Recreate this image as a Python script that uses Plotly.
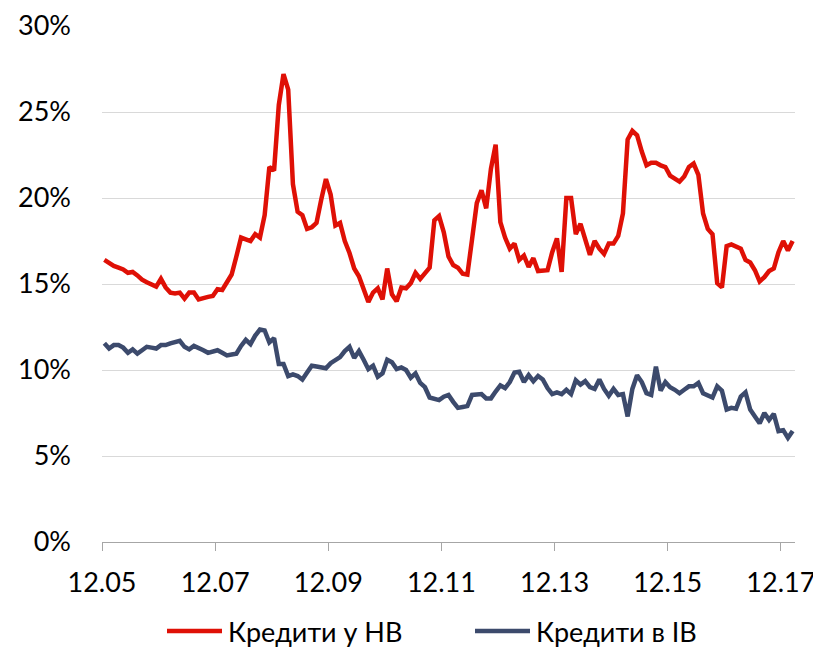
import plotly.graph_objects as go

# Monthly observations, Dec 2005 .. Feb 2018 (percent)
loans_nv = [
    16.4, 16.2, 16.05, 15.95, 15.85, 15.65, 15.7, 15.5, 15.25, 15.1, 14.95, 14.85,
    15.3, 14.8, 14.5, 14.45, 14.5, 14.15, 14.5, 14.5, 14.1, 14.2, 14.25, 14.3,
    14.7, 14.65, 15.1, 15.55, 16.6, 17.7, 17.6, 17.5, 17.9, 17.7, 19.0, 21.8,
    21.6, 25.4, 27.2, 26.3, 20.8, 19.2, 19.0, 18.2, 18.3, 18.55, 19.9, 21.1,
    20.2, 18.4, 18.55, 17.5, 16.8, 15.9, 15.45, 14.7, 13.95, 14.5, 14.75, 14.1,
    15.9, 14.4, 14.0, 14.8, 14.75, 15.05, 15.65, 15.3, 15.6, 15.95, 18.7, 18.95,
    18.0, 16.6, 16.1, 15.95, 15.6, 15.55, 17.6, 19.7, 20.45, 19.4, 21.7, 23.1,
    18.6, 17.7, 17.05, 17.35, 16.4, 16.65, 16.0, 16.5, 15.75, 15.75, 15.8, 16.85,
    17.65, 15.7, 20.0, 20.0, 17.9, 18.5, 17.7, 16.7, 17.5, 17.05, 16.75, 17.35,
    17.35, 17.8, 19.1, 23.4, 23.9, 23.65, 22.7, 21.9, 22.05, 22.05, 21.9, 21.8,
    21.3, 21.15, 20.95, 21.25, 21.8, 22.0, 21.35, 19.1, 18.2, 17.9, 15.05, 14.8,
    17.2, 17.3, 17.15, 17.05, 16.4, 16.25, 15.8, 15.15, 15.4, 15.75, 15.9, 16.85,
    17.5, 16.95, 17.5,
]

loans_iv = [
    11.55, 11.25, 11.45, 11.45, 11.3, 11.0, 11.2, 10.95, 11.15, 11.35, 11.3, 11.25,
    11.45, 11.45, 11.55, 11.6, 11.7, 11.35, 11.2, 11.4, 11.3, 11.15, 11.0, 11.05,
    11.15, 11.0, 10.85, 10.9, 10.95, 11.4, 11.75, 11.5, 12.0, 12.35, 12.3, 11.6,
    11.85, 10.35, 10.35, 9.65, 9.75, 9.65, 9.45, 9.85, 10.25, 10.2, 10.15, 10.1,
    10.4, 10.6, 10.75, 11.1, 11.35, 10.7, 11.1, 10.6, 10.05, 10.25, 9.6, 9.8,
    10.6, 10.45, 10.05, 10.15, 10.0, 9.55, 9.8, 9.25, 9.0, 8.4, 8.3, 8.25,
    8.45, 8.55, 8.15, 7.8, 7.85, 7.9, 8.55, 8.55, 8.6, 8.35, 8.35, 8.75,
    9.1, 8.95, 9.3, 9.85, 9.9, 9.3, 9.7, 9.35, 9.65, 9.45, 8.95, 8.6,
    8.7, 8.6, 8.85, 8.6, 9.4, 9.15, 9.35, 9.0, 8.9, 9.45, 8.9, 8.5,
    8.9, 8.55, 8.6, 7.3, 8.9, 9.7, 9.3, 8.65, 8.55, 10.2, 8.8, 9.3,
    9.0, 8.85, 8.65, 8.85, 9.05, 9.05, 9.25, 8.65, 8.55, 8.4, 9.05, 8.8,
    7.7, 7.8, 7.75, 8.45, 8.7, 7.7, 7.3, 6.9, 7.5, 7.1, 7.45, 6.45,
    6.5, 6.05, 6.45,
]

tick_labels = ["12.05", "12.07", "12.09", "12.11", "12.13", "12.15", "12.17"]
y_ticks = [0, 5, 10, 15, 20, 25, 30]
y_labels = ["0%", "5%", "10%", "15%", "20%", "25%", "30%"]

series_names = ["Кредити у НВ", "Кредити в ІВ"]
colors = ["#DF1006", "#3C4A6C"]

x = list(range(len(loans_nv)))
tick_pos = [i * 24 - 0.5 for i in range(len(tick_labels))]

FONT = "Lato, Noto Sans, sans-serif"
W, H = 813, 641
ML, MR, MT, MB = 94, 26, 18, 107
PW, PH = W - ML - MR, H - MT - MB

fig = go.Figure()
for name, vals, col in zip(series_names, [loans_nv, loans_iv], colors):
    fig.add_trace(go.Scatter(x=x, y=vals, mode="lines", name=name, showlegend=False,
                             line=dict(color=col, width=4.5)))

# Legend drawn below the plot (sample line + label per series)
legend_y = (PH - (623 - MT)) / PH
legend_starts = [159, 467]  # pixel x of each sample line start
shapes, annotations = [], []
for name, col, sx in zip(series_names, colors, legend_starts):
    x0 = (sx - ML) / PW
    x1 = (sx + 55 - ML) / PW
    shapes.append(dict(type="line", xref="paper", yref="paper", x0=x0, x1=x1,
                       y0=legend_y, y1=legend_y, line=dict(color=col, width=4.5)))
    annotations.append(dict(xref="paper", yref="paper", x=(sx + 60 - ML) / PW, y=legend_y,
                            text=name, showarrow=False, xanchor="left", yanchor="middle",
                            borderpad=0,
                            font=dict(size=27, family=FONT, color="#000000")))

fig.update_layout(
    width=W, height=H,
    margin=dict(l=ML, r=MR, t=MT, b=MB),
    paper_bgcolor="white", plot_bgcolor="white",
    font=dict(family=FONT, size=27, color="#000000"),
    showlegend=False,
    shapes=shapes, annotations=annotations,
    xaxis=dict(range=[-0.5, len(x) - 0.5], tickvals=tick_pos, ticktext=tick_labels,
               showgrid=False, zeroline=False, showline=True, linecolor="#A6A6A6",
               linewidth=1.3, ticks="outside", ticklen=8, tickcolor="#A6A6A6",
               tickwidth=1.3, ticklabelstandoff=8, automargin=False),
    yaxis=dict(range=[0, 30], tickvals=y_ticks, ticktext=y_labels, showgrid=True,
               gridcolor="#D9D9D9", gridwidth=1.3, zeroline=False, showline=False,
               ticks="", ticklabelstandoff=30, automargin=False),
)

fig.write_html("out.html")
